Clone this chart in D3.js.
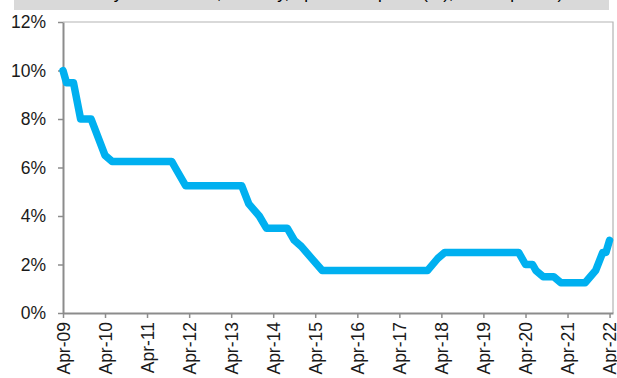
<!DOCTYPE html>
<html>
<head>
<meta charset="utf-8">
<script src="https://cdn.jsdelivr.net/npm/d3@7"></script>
<style>
  body { margin: 0; background: #fff; }
  svg { display: block; font-family: "Liberation Sans", Arial, sans-serif; }
</style>
</head>
<body>
<svg width="617" height="378"></svg>
<script>
// policy rate at each change of slope (month, %)
const rateMonths = ["2009-04", "2009-05", "2009-07", "2009-09", "2009-12", "2010-04", "2010-06",
    "2011-11", "2011-12", "2012-03", "2013-07", "2013-09", "2013-12", "2014-02", "2014-08",
    "2014-10", "2014-12", "2015-03", "2015-06", "2017-12", "2018-03", "2018-05", "2020-02",
    "2020-04", "2020-06", "2020-07", "2020-09", "2020-12", "2021-02", "2021-09", "2021-12",
    "2022-02", "2022-03", "2022-04"];
const rateValues = [10.0, 9.5, 9.5, 8.0, 8.0, 6.5, 6.25,
    6.25, 6.0, 5.25, 5.25, 4.5, 4.0, 3.5, 3.5,
    3.0, 2.75, 2.25, 1.75, 1.75, 2.25, 2.5, 2.5,
    2.0, 2.0, 1.75, 1.5, 1.5, 1.25, 1.25, 1.75,
    2.5, 2.5, 3.0];
const yTickValues = [0, 2, 4, 6, 8, 10, 12];
const xTickLabels = ["Apr-09", "Apr-10", "Apr-11", "Apr-12", "Apr-13", "Apr-14", "Apr-15",
    "Apr-16", "Apr-17", "Apr-18", "Apr-19", "Apr-20", "Apr-21", "Apr-22"];
const titleText = "Policy interest rate, monthly, Apr-09 to Apr-22 (%), end of period)";

const svg = d3.select("svg");
const plotLeft = 63, plotRight = 613, plotTop = 22, plotBottom = 313;
const parseMonth = d3.timeParse("%Y-%m");
const parseTick = d3.timeParse("%b-%y");

const data = rateMonths.map((m, i) => ({ date: parseMonth(m), value: rateValues[i] }));

const x = d3.scaleTime()
    .domain([parseMonth("2009-04"), parseMonth("2022-05")])
    .range([plotLeft, plotRight]);
const y = d3.scaleLinear()
    .domain([0, 12])
    .range([plotBottom, plotTop]);

// grey title band, text cut off by the top of the page
svg.append("rect")
    .attr("x", 14)
    .attr("y", 0)
    .attr("width", 595)
    .attr("height", 10)
    .attr("fill", "#d9d9d9");
svg.append("text")
    .attr("x", 320)
    .attr("y", -1)
    .attr("text-anchor", "middle")
    .attr("font-size", 17)
    .attr("fill", "#000")
    .text(titleText);

// plot border (top and right)
svg.append("path")
    .attr("d", `M${plotLeft},${plotTop}H${plotRight}V${plotBottom}`)
    .attr("fill", "none")
    .attr("stroke", "#b3b3b3")
    .attr("stroke-width", 1.2);

// y axis
const yAxis = svg.append("g")
    .attr("transform", `translate(${plotLeft},0)`)
    .call(d3.axisLeft(y).tickValues(yTickValues).tickSize(5).tickSizeOuter(0)
        .tickFormat(d => d + "%"));
yAxis.select(".domain").attr("stroke", "#8c8c8c").attr("stroke-width", 2);
yAxis.selectAll(".tick line").attr("stroke", "#8c8c8c").attr("stroke-width", 1.5);
yAxis.selectAll(".tick text")
    .attr("x", -17)
    .attr("font-size", 17.5)
    .attr("font-family", "Liberation Sans, Arial, sans-serif")
    .attr("fill", "#1a1a1a");

// x axis
const xAxis = svg.append("g")
    .attr("transform", `translate(0,${plotBottom})`)
    .call(d3.axisBottom(x).tickValues(xTickLabels.map(parseTick)).tickSize(5).tickSizeOuter(0)
        .tickFormat(d3.timeFormat("%b-%y")));
xAxis.select(".domain").attr("stroke", "#8c8c8c").attr("stroke-width", 2);
xAxis.selectAll(".tick line").attr("stroke", "#8c8c8c").attr("stroke-width", 1.5);
xAxis.selectAll(".tick text")
    .attr("transform", "rotate(-90)")
    .attr("text-anchor", "end")
    .attr("x", -9)
    .attr("y", 0)
    .attr("dy", "0.35em")
    .attr("font-size", 17.5)
    .attr("font-family", "Liberation Sans, Arial, sans-serif")
    .attr("fill", "#1a1a1a");

// rate line
const line = d3.line()
    .x(d => x(d.date))
    .y(d => y(d.value));

svg.append("path")
    .datum(data)
    .attr("d", line)
    .attr("fill", "none")
    .attr("stroke", "#00b0f0")
    .attr("stroke-width", 7.5)
    .attr("stroke-linejoin", "round")
    .attr("stroke-linecap", "round");
</script>
</body>
</html>
